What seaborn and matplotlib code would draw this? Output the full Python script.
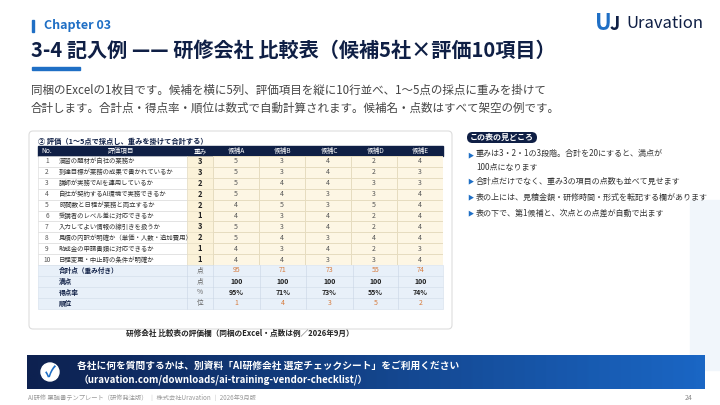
import numpy as np
import matplotlib
matplotlib.use("Agg")
import matplotlib.pyplot as plt
from matplotlib.patches import FancyBboxPatch, Rectangle, Circle
from matplotlib.colors import ListedColormap
import seaborn as sns

sns.set_theme(style="white")
plt.rcParams["font.family"] = ["Noto Sans CJK JP", "DejaVu Sans"]

NAVY = "#0f1f45"
BLUE = "#1f6fc5"
ORANGE = "#d67a3c"

ITEMS = [
    "演習の題材が自社の業務か",
    "到達目標が業務の成果で書かれているか",
    "講師が実務でAIを運用しているか",
    "自社が契約するAI環境で実務できるか",
    "時間数と日程が業務と両立するか",
    "受講者のレベル差に対応できるか",
    "入力してよい情報の線引きを扱うか",
    "見積の内訳が明確か（単価・人数・追加費用）",
    "助成金の申請書類に対応できるか",
    "日程変更・中止時の条件が明確か",
]
WEIGHTS = [3, 3, 2, 2, 2, 1, 3, 2, 1, 1]
CANDIDATES = ["候補A", "候補B", "候補C", "候補D", "候補E"]
SCORES = [
    [5, 3, 4, 2, 4],
    [5, 3, 4, 2, 3],
    [5, 4, 4, 3, 3],
    [5, 4, 3, 3, 4],
    [4, 5, 3, 5, 4],
    [4, 3, 4, 2, 4],
    [5, 3, 4, 2, 4],
    [5, 4, 3, 4, 4],
    [4, 3, 4, 2, 3],
    [4, 4, 3, 3, 4],
]
TOTALS = [95, 71, 73, 55, 74]
FULL = [100, 100, 100, 100, 100]
RATES = ["95%", "71%", "73%", "55%", "74%"]
RANKS = [1, 4, 3, 5, 2]
SUMMARY_LABELS = ["合計点（重み付き）", "満点", "得点率", "順位"]
SUMMARY_UNITS = ["点", "点", "%", "位"]
POINTS = [
    "重みは3・2・1の3段階。合計を20にすると、満点が\n100点になります",
    "合計点だけでなく、重み3の項目の点数も並べて見せます",
    "表の上には、見積金額・研修時間・形式を転記する欄があります",
    "表の下で、第1候補と、次点との点差が自動で出ます",
]

W, H = 720, 405
fig = plt.figure(figsize=(7.2, 4.05), dpi=100)
ax = fig.add_axes([0, 0, 1, 1])
ax.set_xlim(0, W)
ax.set_ylim(H, 0)
ax.axis("off")

# faint background swoosh
ax.add_patch(Rectangle((690, 200), 40, 170, color="#f1f6fb", zorder=0))

# header
ax.add_patch(Rectangle((32, 20), 2, 12, color=BLUE))
ax.text(44, 26, "Chapter 03", fontsize=9, color=BLUE, weight="bold", va="center")
ax.text(31, 50, "3-4 記入例 —— 研修会社 比較表（候補5社×評価10項目）",
        fontsize=14.5, color=NAVY, weight="bold", va="center")
ax.add_patch(Rectangle((32, 67), 48, 2.5, color=BLUE))
ax.text(31, 90, "同梱のExcelの1枚目です。候補を横に5列、評価項目を縦に10行並べ、1〜5点の採点に重みを掛けて",
        fontsize=8.3, color="#444444", va="center")
ax.text(31, 108, "合計します。合計点・得点率・順位は数式で自動計算されます。候補名・点数はすべて架空の例です。",
        fontsize=8.3, color="#444444", va="center")

# logo
ax.text(603, 24, "U", fontsize=16, color=BLUE, weight="bold", va="center", ha="center")
ax.text(615, 25, "J", fontsize=13, color=NAVY, weight="bold", va="center", ha="center")
ax.text(626, 24, "Uravation", fontsize=12, color=NAVY, va="center")

# table card
ax.add_patch(FancyBboxPatch((29, 131), 423, 198, boxstyle="round,pad=0,rounding_size=4",
                            fc="white", ec="#dddddd", lw=0.8))
ax.text(38, 141, "② 評価（1〜5点で採点し、重みを掛けて合計する）", fontsize=5.2,
        color=NAVY, weight="bold", va="center")

cols = [38, 56, 187, 213, 260, 306, 353, 398, 443]
top, rh = 146, 10.9
hdr_h = 10
ax.add_patch(Rectangle((cols[0], top), cols[-1] - cols[0], hdr_h, color=NAVY))
for i, lab in enumerate(["No.", "評価項目", "重み"] + CANDIDATES):
    ax.text((cols[i] + cols[i + 1]) / 2, top + hdr_h / 2, lab, fontsize=4.8,
            color="white", ha="center", va="center")

body_top = top + hdr_h
for r, (item, wt) in enumerate(zip(ITEMS, WEIGHTS)):
    y0 = body_top + r * rh
    yc = y0 + rh / 2
    ax.add_patch(Rectangle((cols[0], y0), cols[2] - cols[0], rh, fc="white",
                           ec="#d7d7d7", lw=0.4))
    ax.add_patch(Rectangle((cols[2], y0), cols[3] - cols[2], rh, fc="#fbf2d9",
                           ec="#e6dcc0", lw=0.4))
    ax.text((cols[0] + cols[1]) / 2, yc, str(r + 1), fontsize=4.8, color="#555555",
            ha="center", va="center")
    ax.text(cols[1] + 3, yc, item, fontsize=4.6, color="#333333", va="center")
    ax.text((cols[2] + cols[3]) / 2, yc, str(wt), fontsize=5.5, color="#222222",
            ha="center", va="center", weight="bold")

# score grid via seaborn heatmap
hx0, hx1 = cols[3], cols[-1]
hy0, hy1 = body_top, body_top + 10 * rh
hax = fig.add_axes([hx0 / W, 1 - hy1 / H, (hx1 - hx0) / W, (hy1 - hy0) / H])
sns.heatmap(np.array(SCORES), ax=hax, cmap=ListedColormap(["#fdf6e4"]), cbar=False,
            annot=True, fmt="d", annot_kws={"fontsize": 5, "color": "#555555"},
            linewidths=0.4, linecolor="#e6dcc0")
hax.set_xticks([])
hax.set_yticks([])

# summary rows
sum_top = hy1
sum_vals = [TOTALS, FULL, RATES, RANKS]
for r, (lab, unit, vals) in enumerate(zip(SUMMARY_LABELS, SUMMARY_UNITS, sum_vals)):
    y0 = sum_top + r * rh
    yc = y0 + rh / 2
    ax.add_patch(Rectangle((cols[0], y0), cols[-1] - cols[0], rh, fc="#e8f0f9",
                           ec="#d3deeb", lw=0.4))
    ax.text(cols[1] + 3, yc, lab, fontsize=4.8, color=NAVY, weight="bold", va="center")
    ax.text((cols[2] + cols[3]) / 2, yc, unit, fontsize=4.8, color="#666666",
            ha="center", va="center")
    colr = ORANGE if r in (0, 3) else "#222222"
    for c, v in enumerate(vals):
        ax.text((cols[3 + c] + cols[4 + c]) / 2, yc, str(v), fontsize=5,
                color=colr, ha="center", va="center",
                weight="bold" if r in (1, 2) else "normal")
for x in cols[2:-1]:
    ax.plot([x, x], [sum_top, sum_top + 4 * rh], color="#c9d5e4", lw=0.4)

ax.text(240, 333, "研修会社 比較表の評価欄（同梱のExcel・点数は例／2026年9月）", fontsize=5.5,
        color="#222222", weight="bold", ha="center", va="center")

# right panel
ax.add_patch(FancyBboxPatch((467, 132), 70, 11, boxstyle="round,pad=0,rounding_size=5.5",
                            fc=NAVY, ec="none"))
ax.text(502, 137.5, "この表の見どころ", fontsize=5.8, color="white", weight="bold",
        ha="center", va="center")
for y, txt in zip([155, 181, 197, 213], POINTS):
    ax.text(467, y + 0.5, "▶", fontsize=4.5, color=BLUE, va="center")
    yc = y + 5.5 if "\n" in txt else y
    ax.text(476, yc, txt, fontsize=5.8, color="#333333", va="center", linespacing=1.7)

# bottom banner gradient
c0 = np.array(matplotlib.colors.to_rgb("#0d2150"))
c1 = np.array(matplotlib.colors.to_rgb("#1a66c4"))
gcmap = ListedColormap([tuple(c0 * (1 - t) + c1 * t) for t in np.linspace(0, 1, 64)])
ax.imshow(np.linspace(0, 1, 256).reshape(1, -1), extent=(27, 705, 389, 355),
          cmap=gcmap, aspect="auto", zorder=1)
ax.add_patch(Circle((50, 372), 9, color="white", zorder=2))
ax.text(50, 372.5, "✓", fontsize=11, color=BLUE, ha="center", va="center", zorder=3,
        weight="bold")
ax.text(77, 366, "各社に何を質問するかは、別資料「AI研修会社 選定チェックシート」をご利用ください",
        fontsize=7, color="white", weight="bold", va="center", zorder=3)
ax.text(79, 380, "（uravation.com/downloads/ai-training-vendor-checklist/）",
        fontsize=7, color="white", weight="bold", va="center", zorder=3)
ax.set_xlim(0, W)
ax.set_ylim(H, 0)

ax.text(28, 398, "AI研修 稟議書テンプレート（研修発注版） ｜ 株式会社Uravation ｜ 2026年9月版",
        fontsize=4.5, color="#999999", va="center")
ax.text(692, 398, "24", fontsize=5, color="#888888", ha="right", va="center")

fig.savefig("out.png", dpi=100)
